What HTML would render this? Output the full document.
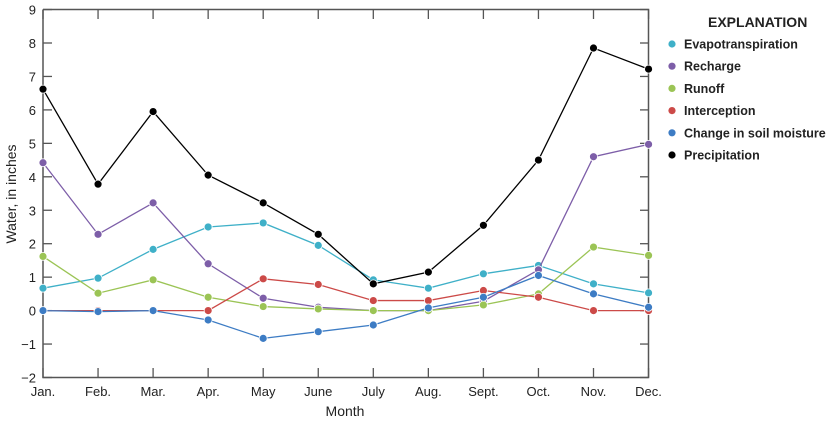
<!DOCTYPE html><html><head><meta charset="utf-8"><style>body{margin:0;background:#fff}svg{display:block}text{font-family:"Liberation Sans",sans-serif;font-size:13px;fill:#222}</style></head><body>
<svg id="s" width="831" height="422" xmlns="http://www.w3.org/2000/svg"></svg>
<script>
const s=document.getElementById('s');let h='';
const X=i=>43+i*55.05,Y=v=>310.6-v*33.45;
h+='<path d="M43 9.5V377.5H648.5V9.5H43" fill="none" stroke="#555" stroke-width="1.5"/>';
for(let v=-2;v<=9;v++){h+=`<line x1="43" x2="52" y1="${Y(v)}" y2="${Y(v)}" stroke="#555" stroke-width="1.3"/><line x1="648.5" x2="640" y1="${Y(v)}" y2="${Y(v)}" stroke="#555" stroke-width="1.3"/><text x="36" y="${Y(v)+5}" text-anchor="end">${v<0?'\u2212'+(-v):v}</text>`;}
const m=['Jan.','Feb.','Mar.','Apr.','May','June','July','Aug.','Sept.','Oct.','Nov.','Dec.'];
m.forEach((t,i)=>{h+=`<line x1="${X(i)}" x2="${X(i)}" y1="377.5" y2="368" stroke="#555" stroke-width="1.3"/><line x1="${X(i)}" x2="${X(i)}" y1="9.5" y2="19" stroke="#555" stroke-width="1.3"/><text x="${X(i)}" y="396" text-anchor="middle">${t}</text>`});
h+='<text x="345" y="416" text-anchor="middle" style="font-size:14px">Month</text>';
h+='<text transform="translate(16,194) rotate(-90)" text-anchor="middle" style="font-size:14px">Water, in inches</text>';
const S=[
['Evapotranspiration','#3fb0c8',[0.67,0.97,1.83,2.5,2.62,1.95,0.92,0.67,1.1,1.35,0.8,0.53]],
['Recharge','#7d5ea8',[4.42,2.28,3.22,1.4,0.37,0.1,0,0,0.28,1.22,4.6,4.97]],
['Runoff','#9bc455',[1.62,0.52,0.92,0.4,0.12,0.05,0,0,0.17,0.5,1.9,1.65]],
['Interception','#cc4a48',[0,0,0,0,0.95,0.78,0.3,0.3,0.6,0.4,0,0]],
['Change in soil moisture','#3d7cc4',[0,-0.03,0,-0.28,-0.83,-0.63,-0.43,0.08,0.4,1.05,0.5,0.1]],
['Precipitation','#000',[6.62,3.78,5.95,4.05,3.22,2.28,0.8,1.15,2.55,4.5,7.85,7.22]]];
S.forEach(([n,c,d],k)=>{h+=`<polyline fill="none" stroke="${c}" stroke-width="1.3" points="${d.map((v,i)=>X(i)+','+Y(v)).join(' ')}"/>`;d.forEach((v,i)=>h+=`<circle cx="${X(i)}" cy="${Y(v)}" r="4" fill="${c}" stroke="#fff" stroke-width="0.8"/>`);
const ly=44+k*22.2;h+=`<circle cx="672" cy="${ly}" r="3.6" fill="${c}"/><text x="684" y="${ly+4.5}" style="font-size:12.5px;font-weight:bold">${n}</text>`});
h+='<text x="708" y="27" style="font-size:14px;font-weight:bold">EXPLANATION</text>';
s.innerHTML=h;
</script></body></html>
